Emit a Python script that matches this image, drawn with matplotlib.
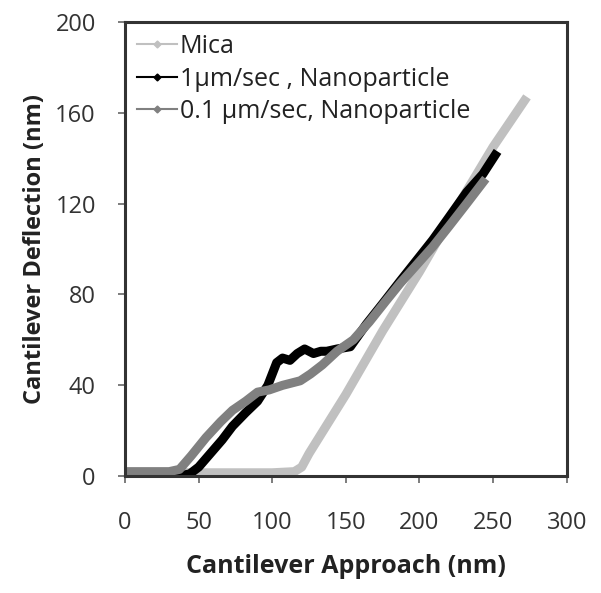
import matplotlib
matplotlib.use("Agg")
import matplotlib.pyplot as plt
from matplotlib.lines import Line2D

# Mica
mica_x = [0, 20, 40, 60, 80, 100, 115, 120, 125, 150, 175, 200, 225, 250, 273]
mica_y = [1, 1, 1.5, 1.5, 1.5, 1.5, 2, 4, 10, 36, 64, 90, 118, 145, 167]

# 1 um/sec, nanoparticle
fast_x = [0, 15, 30, 40, 44, 50, 58, 66, 73, 82, 90, 97, 103, 107, 112, 117,
          122, 128, 133, 137, 144, 153, 164, 175, 187, 198, 209, 220, 232, 243, 253]
fast_y = [0, -0.5, 0, 0.5, 1, 4, 10, 16, 22, 28, 33, 40, 50, 52, 51, 54,
          56, 54, 55, 55, 56, 57, 67, 76, 86, 95, 104, 114, 125, 133, 143]

# 0.1 um/sec, nanoparticle
slow_x = [0, 15, 30, 37, 45, 55, 65, 73, 82, 90, 98, 107, 113, 119, 126,
          134, 144, 155, 166, 177, 187, 198, 209, 220, 232, 245]
slow_y = [2, 2, 2, 3, 9, 17, 24, 29, 33, 37, 38, 40, 41, 42, 45,
          49, 55, 60, 68, 77, 85, 93, 101, 110, 120, 131]

series_labels = ["Mica", "1µm/sec , Nanoparticle", "0.1 µm/sec, Nanoparticle"]
series_colors = ["#c0c0c0", "#000000", "#808080"]

plt.rcParams["font.family"] = ["Open Sans", "DejaVu Sans"]

fig = plt.figure(figsize=(6.01, 5.93), dpi=100)
ax = fig.add_axes([0.208, 0.197, 0.735, 0.766])

for xs, ys, c, lab in zip([mica_x, fast_x, slow_x], [mica_y, fast_y, slow_y],
                          series_colors, series_labels):
    ax.plot(xs, ys, color=c, lw=6.5, solid_capstyle="butt", label=lab)

ax.set_xlim(0, 300)
ax.set_ylim(0, 200)
ax.set_xticks(range(0, 301, 50))
ax.set_yticks(range(0, 201, 40))

for s in ax.spines.values():
    s.set_color("#333333")
    s.set_linewidth(2.2)
ax.tick_params(direction="out", length=5, width=1.2, color="#666666",
               labelsize=17, labelcolor="#333333")
ax.tick_params(axis="x", pad=20)
ax.tick_params(axis="y", pad=16)

ax.set_xlabel("Cantilever Approach (nm)", fontsize=18, fontweight="bold",
              color="#222222", labelpad=14)
ax.set_ylabel("Cantilever Deflection (nm)", fontsize=17, fontweight="bold",
              color="#222222", labelpad=6)

handles = [Line2D([], [], color=c, lw=1.5, marker="D", ms=3.5)
           for c in series_colors]
leg = ax.legend(handles, series_labels, loc="upper left", frameon=False,
                fontsize=18, handlelength=1.6, handletextpad=0.1,
                labelspacing=0.3, borderaxespad=0.0,
                bbox_to_anchor=(0.005, 0.995))
for t in leg.get_texts():
    t.set_color("#222222")

fig.savefig("out.png", dpi=100)
